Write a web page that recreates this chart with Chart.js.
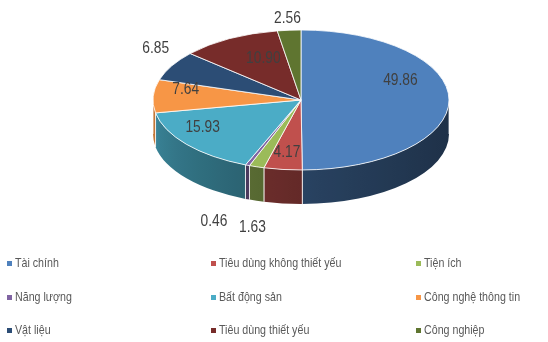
<!DOCTYPE html>
<html>
<head>
<meta charset="utf-8">
<script src="https://cdn.jsdelivr.net/npm/chart.js@4.4.1/dist/chart.umd.min.js"></script>
<style>
  html, body { margin: 0; padding: 0; background: #ffffff; }
  #wrap { position: relative; width: 548px; height: 342px; overflow: hidden; }
  #c { position: absolute; left: 0; top: 0; }
  .lg { position: absolute; font-family: "Liberation Sans", Arial, sans-serif;
        font-size: 13.5px; color: #595959; white-space: nowrap; line-height: 16px; }
  .lg span { display: inline-block; transform: scaleX(0.79); transform-origin: 0 50%; }
  .lg i { position: absolute; left: -8px; top: 6px; width: 5px; height: 5px; }
</style>
</head>
<body>
<div id="wrap">
  <canvas id="c" width="548" height="342"></canvas>
  <div id="legend"></div>
</div>
<script>
// ---- data ----
const categories = ['Tài chính', 'Tiêu dùng không thiết yếu', 'Tiện ích', 'Năng lượng', 'Bất động sản',
                    'Công nghệ thông tin', 'Vật liệu', 'Tiêu dùng thiết yếu', 'Công nghiệp'];
const values = [49.86, 4.17, 1.63, 0.46, 15.93, 7.64, 6.85, 10.90, 2.56];
const colors = ['#4F81BD', '#C0504D', '#9BBB59', '#8064A2', '#4BACC6', '#F79646', '#2C4D75', '#772C2A', '#5F7530'];

// ---- label styling ----
const outsideLabels = ['Tiện ích', 'Năng lượng', 'Vật liệu', 'Công nghiệp'];
const labelNudge = {
  'Tài chính': [-16, -11],
  'Tiêu dùng không thiết yếu': [0, 12],
  'Bất động sản': [-9, 5],
  'Tiêu dùng thiết yếu': [18, 10],
  'Vật liệu': [2, -12],
  'Năng lượng': [-26, 12],
  'Tiện ích': [2, 16]
};

const TILT = 70 / 148;
const DEPTH = 34;

function hexToRgb(h) {
  const n = parseInt(h.slice(1), 16);
  return [(n >> 16) & 255, (n >> 8) & 255, n & 255];
}
function shade(hex, f) {
  const [r, g, b] = hexToRgb(hex);
  return 'rgb(' + Math.round(r * f) + ',' + Math.round(g * f) + ',' + Math.round(b * f) + ')';
}
function wallFactor(a) { // a in [0, PI]; 0 = right side, PI = left side
  const t = Math.max(0, Math.min(1, a / Math.PI));
  return 0.38 + 0.42 * Math.pow(t, 1.6);
}

const pie3d = {
  id: 'pie3d',
  beforeDatasetsDraw(chart) {
    const ctx = chart.ctx;
    const arcs = chart.getDatasetMeta(0).data;
    const p0 = arcs[0].getProps(['x', 'outerRadius']);
    const rx = p0.outerRadius, ry = rx * TILT;
    const cx = p0.x, cy = chart.chartArea.top + ry;
    const pt = (a, r, d) => [cx + rx * r * Math.cos(a), cy + ry * r * Math.sin(a) + (d || 0)];

    const props = arcs.map(a => a.getProps(['startAngle', 'endAngle']));

    // ---- outer walls (front half only) ----
    props.forEach((p, i) => {
      const ranges = [];
      [-2 * Math.PI, 0, 2 * Math.PI].forEach(off => {
        const s = Math.max(p.startAngle, off), e = Math.min(p.endAngle, off + Math.PI);
        if (e > s) ranges.push([s - off, e - off]);
      });
      ranges.forEach(([s, e]) => {
        const grad = ctx.createLinearGradient(cx - rx, 0, cx + rx, 0);
        for (let k = 0; k <= 40; k++) {
          const u = k / 40;
          const a = Math.acos(Math.max(-1, Math.min(1, 2 * u - 1)));
          grad.addColorStop(u, shade(colors[i], wallFactor(a)));
        }
        ctx.beginPath();
        ctx.ellipse(cx, cy, rx, ry, 0, s, e, false);
        ctx.ellipse(cx, cy + DEPTH, rx, ry, 0, e, s, true);
        ctx.closePath();
        ctx.fillStyle = grad;
        ctx.fill();
        ctx.strokeStyle = 'rgba(255,255,255,0.75)';
        ctx.lineWidth = 1;
        ctx.beginPath();
        const a1 = pt(s, 1), a2 = pt(e, 1);
        ctx.moveTo(a1[0], a1[1]); ctx.lineTo(a1[0], a1[1] + DEPTH);
        ctx.moveTo(a2[0], a2[1]); ctx.lineTo(a2[0], a2[1] + DEPTH);
        ctx.stroke();
      });
    });

    // ---- top faces ----
    props.forEach((p, i) => {
      ctx.beginPath();
      ctx.moveTo(cx, cy);
      ctx.ellipse(cx, cy, rx, ry, 0, p.startAngle, p.endAngle, false);
      ctx.closePath();
      ctx.fillStyle = colors[i];
      ctx.fill();
      ctx.strokeStyle = 'rgba(255,255,255,0.8)';
      ctx.lineWidth = 1;
      ctx.lineJoin = 'round';
      ctx.stroke();
    });

    // ---- data labels ----
    ctx.font = '16px "Liberation Sans", Arial, sans-serif';
    ctx.fillStyle = '#404040';
    ctx.textAlign = 'center';
    ctx.textBaseline = 'middle';
    const SX = 0.86;
    props.forEach((p, i) => {
      const m = (p.startAngle + p.endAngle) / 2;
      const txt = values[i].toFixed(2);
      const w = ctx.measureText(txt).width * SX, h = 16;
      let x, y;
      if (outsideLabels.includes(categories[i])) {
        const front = Math.sin(m) > 0 ? DEPTH : 0;
        const P = pt(m, 1.05, front);
        x = P[0] + Math.cos(m) * w / 2;
        y = P[1] + Math.sin(m) * h / 2;
      } else {
        const P = pt(m, 0.78);
        x = P[0];
        y = cy + ry * 0.7 * Math.sin(m) - 8;
      }
      const n = labelNudge[categories[i]] || [0, 0];
      ctx.save();
      ctx.translate(x + n[0], y + n[1]);
      ctx.scale(SX, 1);
      ctx.fillText(txt, 0, 0);
      ctx.restore();
    });
    return false;
  }
};

new Chart(document.getElementById('c'), {
  type: 'pie',
  data: {
    labels: categories,
    datasets: [{ data: values, backgroundColor: colors, borderWidth: 0 }]
  },
  options: {
    responsive: false,
    animation: false,
    layout: { padding: { left: 153, right: 99, top: 30, bottom: 16 } },
    plugins: { legend: { display: false }, tooltip: { enabled: false } }
  },
  plugins: [pie3d]
});

// ---- legend (3-column grid) ----
const legendCols = [15, 219, 424];
const legendRows = [255, 289, 322];
const lg = document.getElementById('legend');
categories.forEach((name, i) => {
  const d = document.createElement('div');
  d.className = 'lg';
  d.style.left = legendCols[i % 3] + 'px';
  d.style.top = legendRows[Math.floor(i / 3)] + 'px';
  const sq = document.createElement('i');
  sq.style.background = colors[i];
  d.appendChild(sq);
  const sp = document.createElement('span');
  sp.textContent = name;
  d.appendChild(sp);
  lg.appendChild(d);
});
</script>
</body>
</html>
